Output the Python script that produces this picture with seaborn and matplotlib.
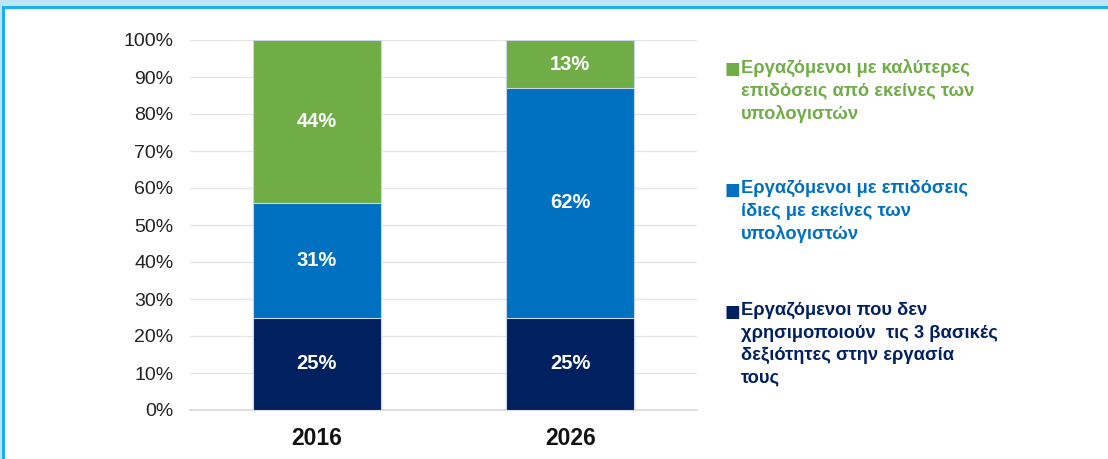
import pandas as pd
import seaborn as sns
import matplotlib.pyplot as plt
from matplotlib.patches import Rectangle

years = ['2016', '2026']
low_skill = [25, 25]     # navy
same_perf = [31, 62]     # blue
better_perf = [44, 13]   # green

series_names = [
    'Εργαζόμενοι με καλύτερες\nεπιδόσεις από εκείνες των\nυπολογιστών',
    'Εργαζόμενοι με επιδόσεις\nίδιες με εκείνες των\nυπολογιστών',
    'Εργαζόμενοι που δεν\nχρησιμοποιούν  τις 3 βασικές\nδεξιότητες στην εργασία\nτους',
]
colors = ['#70AD47', '#0070C0', '#002060']

sns.set_theme(style='white')
plt.rcParams['font.family'] = ['Liberation Sans', 'DejaVu Sans']

df = pd.DataFrame({'year': years, 'low': low_skill, 'same': same_perf, 'better': better_perf})
df['c_low'] = df['low']
df['c_same'] = df['low'] + df['same']
df['c_better'] = df['c_same'] + df['better']

fig = plt.figure(figsize=(11.08, 4.59), dpi=100)
ax = fig.add_axes([190 / 1108, 1 - 410 / 459, (697 - 190) / 1108, 370 / 459])

# draw cumulative totals, tallest first
for col, color in zip(['c_better', 'c_same', 'c_low'], colors):
    sns.barplot(data=df, x='year', y=col, color=color, saturation=1, width=0.505,
                edgecolor='#c9d6ea', linewidth=0.8, ax=ax, zorder=3)

# value labels
for i in range(len(years)):
    base = 0
    for val in [low_skill[i], same_perf[i], better_perf[i]]:
        ax.text(i, base + val / 2, f'{val}%', ha='center', va='center', color='white',
                fontsize=14.5, fontweight='bold', zorder=4)
        base += val

ax.set_ylim(0, 100)
ax.set_xlim(-0.5, 1.5)
ax.set_yticks(range(0, 101, 10))
ax.set_yticklabels([f'{v}%' for v in range(0, 101, 10)], fontsize=14, color='#222222')
ax.set_xticks(range(len(years)))
ax.set_xticklabels(years, fontsize=16.5, fontweight='bold', color='#111111')
ax.tick_params(axis='y', pad=12, length=0)
ax.tick_params(axis='x', pad=12, length=0)
ax.set_xlabel('')
ax.set_ylabel('')
ax.yaxis.grid(True, color='#e6e6e6', linewidth=1)
ax.set_axisbelow(True)
sns.despine(ax=ax, left=True, top=True, right=True, bottom=False)
ax.spines['bottom'].set_color('#d9d9d9')

# legend as text blocks
legend_y = [59, 180, 302]
for name, color, y in zip(series_names, colors, legend_y):
    fig.text(724 / 1108, 1 - (y + 10) / 459, '■', color=color, fontsize=12, va='center',
             family=['DejaVu Sans'])
    fig.text(741 / 1108, 1 - y / 459, name, color=color, fontsize=13.2, fontweight='bold',
             va='top', ha='left', linespacing=1.42)

# frame decoration
fig.patches.append(Rectangle((0, 1 - 7 / 459), 1, 7 / 459, transform=fig.transFigure,
                             facecolor='#bde5f8', edgecolor='none'))
fig.patches.append(Rectangle((0, 1 - 9 / 459), 1, 2.5 / 459, transform=fig.transFigure,
                             facecolor='#1ab0ea', edgecolor='none'))
fig.patches.append(Rectangle((0, 0), 2 / 1108, 1, transform=fig.transFigure,
                             facecolor='#bde5f8', edgecolor='none'))
fig.patches.append(Rectangle((2 / 1108, 0), 2.5 / 1108, 1 - 7 / 459, transform=fig.transFigure,
                             facecolor='#1ab0ea', edgecolor='none'))

fig.savefig('out.png', dpi=100)
